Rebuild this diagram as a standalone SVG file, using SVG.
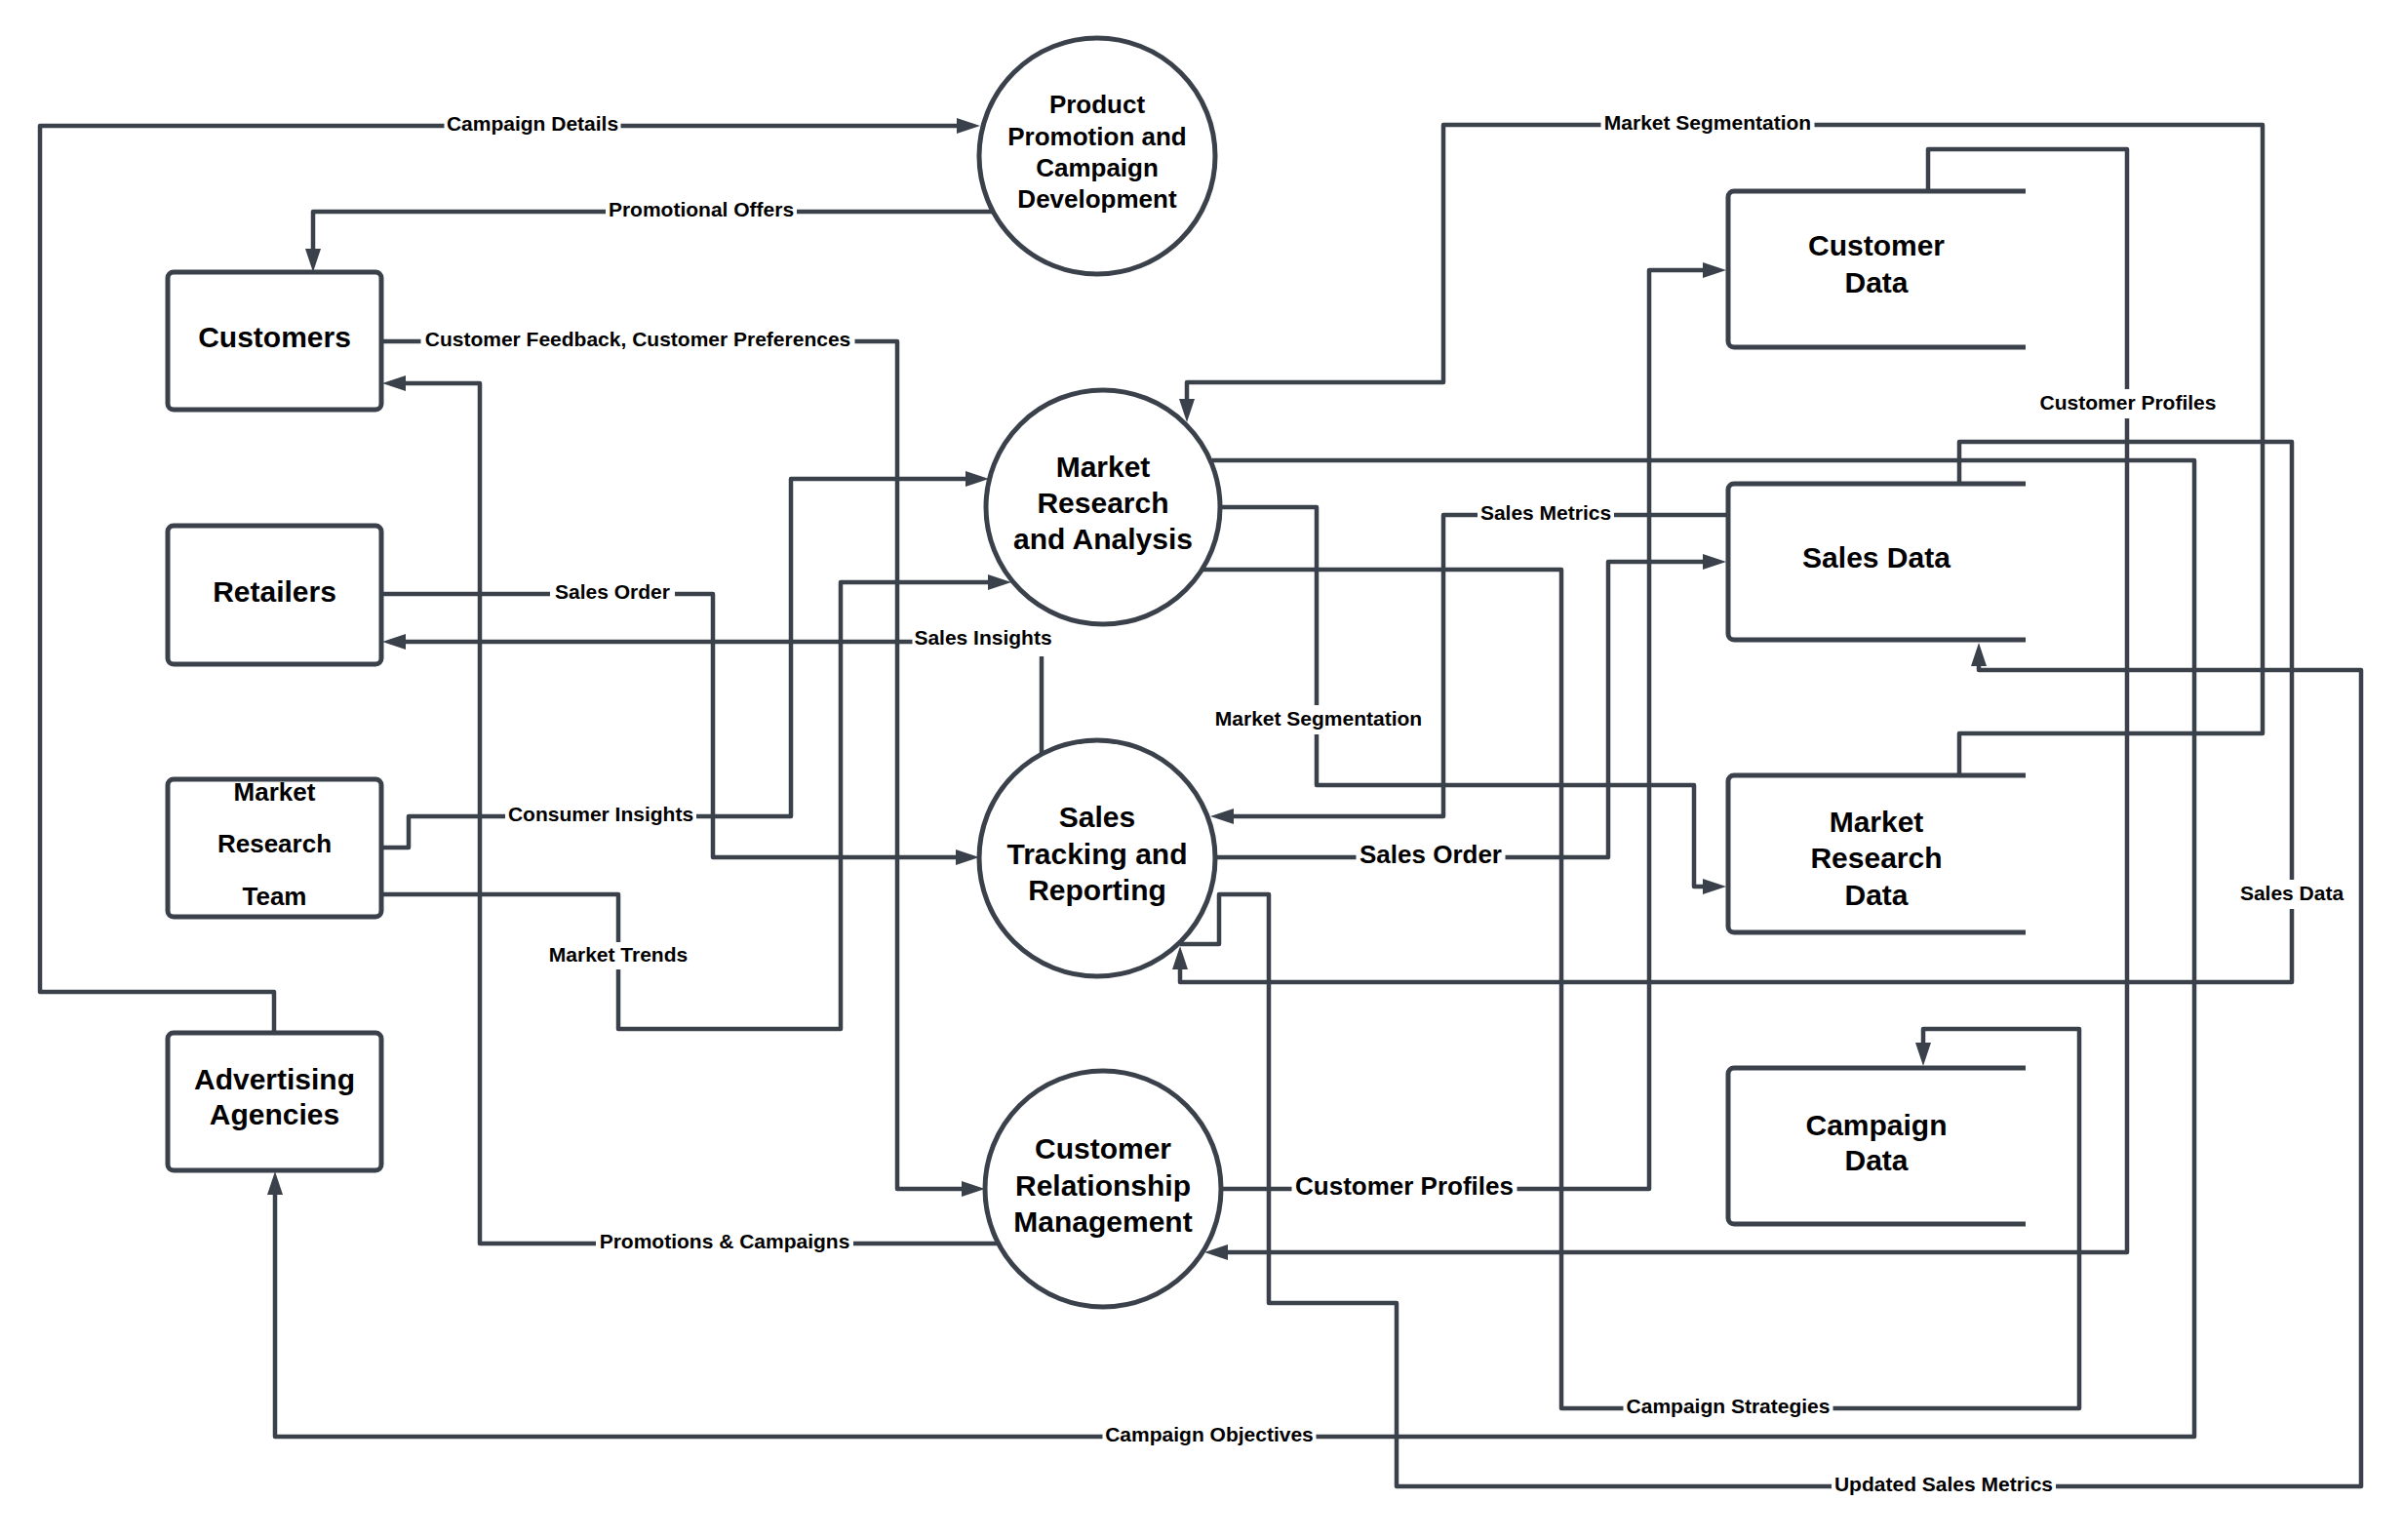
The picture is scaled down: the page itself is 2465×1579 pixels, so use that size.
<svg xmlns="http://www.w3.org/2000/svg" width="2465" height="1579" viewBox="0 0 2465 1579">
<style>
.node{fill:#ffffff;stroke:#3a414a;stroke-width:5}
.store{fill:#ffffff;stroke:#3a414a;stroke-width:5}
.t{font-family:"Liberation Sans",Arial,sans-serif;font-weight:bold;fill:#000;text-anchor:middle}
.n30{font-size:30px}
.n26{font-size:26px}
.l21{font-size:21px}
.l26{font-size:26px}
.c{fill:none;stroke:#3a414a;stroke-width:4.5;stroke-linejoin:round;marker-end:url(#arr)}
.bg{fill:#ffffff}
</style>
<defs>
<marker id="arr" markerUnits="userSpaceOnUse" markerWidth="24" markerHeight="18" refX="16" refY="9" orient="auto">
<path d="M0,1 L24,9 L0,17 z" fill="#3a414a"/>
</marker>
</defs>
<rect x="0" y="0" width="2465" height="1579" fill="#ffffff"/>

<g id="connectors">
<path class="c" d="M281 1059 V1017 H41 V129 H997"/>
<path class="c" d="M1018 217 H321 V271"/>
<path class="c" d="M392 350 H920 V1219 H1002"/>
<path class="c" d="M1023 1275 H492 V393 H400"/>
<path class="c" d="M392 609 H731 V879 H996"/>
<path class="c" d="M1068 773 V658 H400"/>
<path class="c" d="M392 869 H419 V837 H811 V491 H1006"/>
<path class="c" d="M392 917 H634 V1055 H862 V597 H1029"/>
<path class="c" d="M2009 795 V752 H2320 V128 H1480 V392 H1217 V425"/>
<path class="c" d="M1977 196 V153 H2181 V1284 H1243"/>
<path class="c" d="M2009 496 V453 H2350 V1007 H1210 V978"/>
<path class="c" d="M1243 472 H2250 V1473 H282 V1209"/>
<path class="c" d="M1251 520 H1350 V805 H1737 V909 H1762"/>
<path class="c" d="M1771 528 H1480 V837 H1249"/>
<path class="c" d="M1246 879 H1649 V576 H1762"/>
<path class="c" d="M1252 1219 H1691 V277 H1762"/>
<path class="c" d="M1233 584 H1601 V1444 H2132 V1055 H1972 V1085"/>
<path class="c" d="M1210 968 H1250 V917 H1301 V1336 H1432 V1524 H2421 V687 H2029 V667"/>
</g>

<g id="connector-labels">
<rect class="bg" x="455.5" y="116" width="181" height="24"/><text class="t l21" x="546" y="133.5">Campaign Details</text>
<rect class="bg" x="621" y="204" width="196" height="24"/><text class="t l21" x="719" y="221.5">Promotional Offers</text>
<rect class="bg" x="431.5" y="337" width="445" height="24"/><text class="t l21" x="654" y="354.5">Customer Feedback, Customer Preferences</text>
<rect class="bg" x="564" y="596" width="128" height="24"/><text class="t l21" x="628" y="613.5">Sales Order</text>
<rect class="bg" x="935.5" y="641" width="145" height="32"/><text class="t l21" x="1008" y="660.5">Sales Insights</text>
<rect class="bg" x="518" y="824" width="196" height="24"/><text class="t l21" x="616" y="841.5">Consumer Insights</text>
<rect class="bg" x="560.5" y="966" width="147" height="28"/><text class="t l21" x="634" y="986">Market Trends</text>
<rect class="bg" x="611" y="1262" width="264" height="24"/><text class="t l21" x="743" y="1279.5">Promotions &amp; Campaigns</text>
<rect class="bg" x="1130.5" y="1460" width="219" height="24"/><text class="t l21" x="1240" y="1477.5">Campaign Objectives</text>
<rect class="bg" x="1641.5" y="115" width="219" height="24"/><text class="t l21" x="1751" y="132.5">Market Segmentation</text>
<rect class="bg" x="2089" y="399" width="186" height="30"/><text class="t l21" x="2182" y="419.5">Customer Profiles</text>
<rect class="bg" x="1515" y="515" width="140" height="24"/><text class="t l21" x="1585" y="532.5">Sales Metrics</text>
<rect class="bg" x="1243.5" y="723" width="217" height="30"/><text class="t l21" x="1352" y="743.5">Market Segmentation</text>
<rect class="bg" x="2295" y="902" width="110" height="30"/><text class="t l21" x="2350" y="922.5">Sales Data</text>
<rect class="bg" x="1664.5" y="1431" width="215" height="24"/><text class="t l21" x="1772" y="1448.5">Campaign Strategies</text>
<rect class="bg" x="1878" y="1511" width="230" height="24"/><text class="t l21" x="1993" y="1528.5">Updated Sales Metrics</text>
<rect class="bg" x="1390.5" y="863" width="153" height="30"/><text class="t l26" x="1467" y="885">Sales Order</text>
<rect class="bg" x="1324.5" y="1203" width="231" height="30"/><text class="t l26" x="1440" y="1225">Customer Profiles</text>
</g>

<g id="ppcd">
<circle class="node" cx="1125" cy="160" r="121"/>
<text class="t n26" x="1125" y="116">Product</text>
<text class="t n26" x="1125" y="149">Promotion and</text>
<text class="t n26" x="1125" y="181">Campaign</text>
<text class="t n26" x="1125" y="213">Development</text>
</g>

<g id="customers">
<rect class="node" x="172" y="279" width="219" height="141" rx="6"/>
<text class="t n30" x="281.5" y="355.5">Customers</text>
</g>

<g id="retailers">
<rect class="node" x="172" y="539" width="219" height="142" rx="6"/>
<text class="t n30" x="281.5" y="616.5">Retailers</text>
</g>

<g id="market-research-team">
<rect class="node" x="172" y="799" width="219" height="141" rx="6"/>
<text class="t n26" x="281.5" y="821">Market</text>
<text class="t n26" x="281.5" y="874">Research</text>
<text class="t n26" x="281.5" y="928">Team</text>
</g>

<g id="advertising-agencies">
<rect class="node" x="172" y="1059" width="219" height="141" rx="6"/>
<text class="t n30" x="281.5" y="1116.5">Advertising</text>
<text class="t n30" x="281.5" y="1152.5">Agencies</text>
</g>

<g id="market-research-analysis">
<circle class="node" cx="1131" cy="520" r="120"/>
<text class="t n30" x="1131" y="488.5">Market</text>
<text class="t n30" x="1131" y="525.5">Research</text>
<text class="t n30" x="1131" y="562.5">and Analysis</text>
</g>

<g id="sales-tracking">
<circle class="node" cx="1125" cy="880" r="121"/>
<text class="t n30" x="1125" y="847.5">Sales</text>
<text class="t n30" x="1125" y="885.5">Tracking and</text>
<text class="t n30" x="1125" y="922.5">Reporting</text>
</g>

<g id="crm">
<circle class="node" cx="1131" cy="1219" r="121"/>
<text class="t n30" x="1131" y="1187.5">Customer</text>
<text class="t n30" x="1131" y="1225.5">Relationship</text>
<text class="t n30" x="1131" y="1262.5">Management</text>
</g>

<g id="customer-data">
<path class="store" d="M2077 196 H1778 A6 6 0 0 0 1772 202 V350 A6 6 0 0 0 1778 356 H2077"/>
<text class="t n30" x="1924" y="262">Customer</text>
<text class="t n30" x="1924" y="300">Data</text>
</g>

<g id="sales-data">
<path class="store" d="M2077 496 H1778 A6 6 0 0 0 1772 502 V650 A6 6 0 0 0 1778 656 H2077"/>
<text class="t n30" x="1924" y="582">Sales Data</text>
</g>

<g id="market-research-data">
<path class="store" d="M2077 795 H1778 A6 6 0 0 0 1772 801 V950 A6 6 0 0 0 1778 956 H2077"/>
<text class="t n30" x="1924" y="853">Market</text>
<text class="t n30" x="1924" y="890">Research</text>
<text class="t n30" x="1924" y="928">Data</text>
</g>

<g id="campaign-data">
<path class="store" d="M2077 1095 H1778 A6 6 0 0 0 1772 1101 V1249 A6 6 0 0 0 1778 1255 H2077"/>
<text class="t n30" x="1924" y="1164">Campaign</text>
<text class="t n30" x="1924" y="1200">Data</text>
</g>
</svg>
